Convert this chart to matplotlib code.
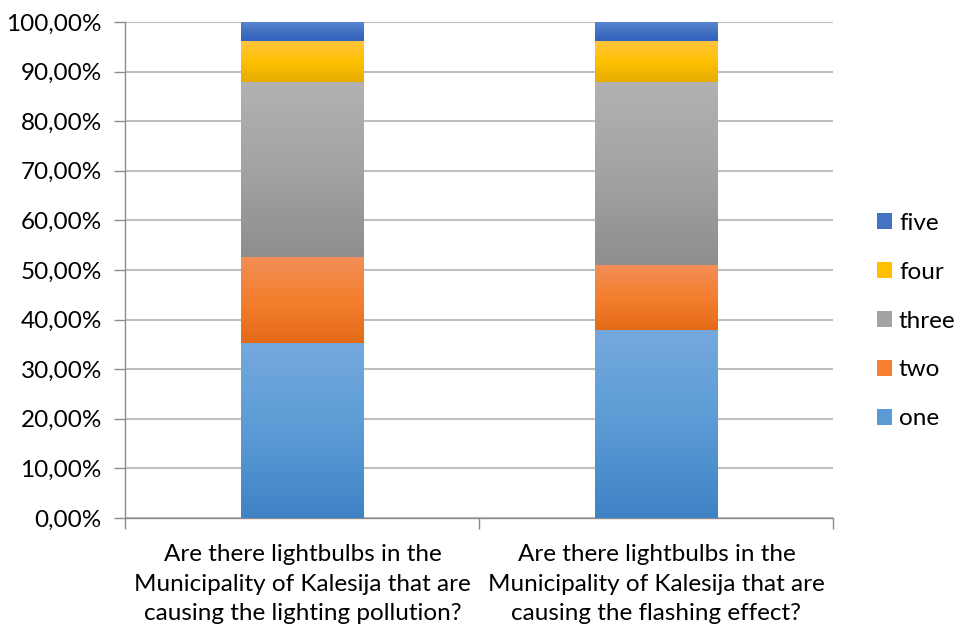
import numpy as np
import matplotlib.pyplot as plt
from matplotlib.colors import LinearSegmentedColormap
from matplotlib.patches import Patch
from matplotlib.ticker import FuncFormatter

plt.rcParams['font.family'] = ['Lato', 'DejaVu Sans']

questions = [
    "Are there lightbulbs in the\nMunicipality of Kalesija that are\ncausing the lighting pollution?",
    "Are there lightbulbs in the\nMunicipality of Kalesija that are\ncausing the flashing effect?",
]
answers = ["one", "two", "three", "four", "five"]
one = [35.2, 37.8]
two = [17.4, 13.1]
three = [35.3, 37.0]
four = [8.2, 8.2]
five = [3.9, 3.9]

# top / middle / bottom colours for the Excel-like vertical gradient
shades = {
    "one": ["#74a9de", "#5b9bd5", "#3f83c6"],
    "two": ["#f28e58", "#f47f2e", "#e46a17"],
    "three": ["#b2b2b2", "#a3a3a3", "#8e8e8e"],
    "four": ["#ffc540", "#ffc000", "#e5ad00"],
    "five": ["#5d88d2", "#4472c4", "#2f60bd"],
}

fig = plt.figure(figsize=(9.58, 6.30), dpi=100)
ax = fig.add_axes([0.131, 0.178, 0.739, 0.787])

x = np.arange(len(questions))
bottom = np.zeros(len(questions))
gradient = np.linspace(0, 1, 256).reshape(-1, 1)
for name, vals in zip(answers, [one, two, three, four, five]):
    bars = ax.bar(x, vals, 0.347, bottom=bottom, color="none", zorder=3)
    cmap = LinearSegmentedColormap.from_list(name, shades[name][::-1])
    for b in bars:
        x0, y0 = b.get_x(), b.get_y()
        ax.imshow(gradient, cmap=cmap, aspect="auto", origin="lower",
                  extent=[x0, x0 + b.get_width(), y0, y0 + b.get_height()],
                  zorder=3, interpolation="bicubic")
    bottom += np.array(vals)

ax.set_xlim(-0.5, 1.5)
ax.set_ylim(0, 100)
ax.set_yticks(np.arange(0, 101, 10))
ax.yaxis.set_major_formatter(FuncFormatter(lambda v, p: f"{v:.2f}".replace(".", ",") + "%"))
ax.set_xticks([-0.5, 0.5, 1.5])
ax.set_xticklabels([])
ax.set_xticks(x, minor=True)
ax.set_xticklabels(questions, minor=True, fontsize=17.5, linespacing=1.5)
ax.tick_params(axis="x", which="minor", length=0, pad=19)
ax.tick_params(axis="x", which="major", length=8, color="#8c8c8c", width=1)
ax.tick_params(axis="y", length=8, color="#8c8c8c", width=1, labelsize=17.5, pad=9)
ax.grid(axis="y", color="#bfbfbf", linewidth=1.5, zorder=0)
for s in ["top", "right"]:
    ax.spines[s].set_visible(False)
for s in ["left", "bottom"]:
    ax.spines[s].set_color("#8c8c8c")
    ax.spines[s].set_linewidth(1)

handles = [Patch(facecolor=shades[n][1], edgecolor="none") for n in answers][::-1]
leg = ax.legend(handles, answers[::-1], loc="center left", bbox_to_anchor=(1.03, 0.397),
                frameon=False, fontsize=17.5, handlelength=0.62, handleheight=0.62,
                handletextpad=0.3, labelspacing=1.15)

fig.savefig("out.png", dpi=100)
